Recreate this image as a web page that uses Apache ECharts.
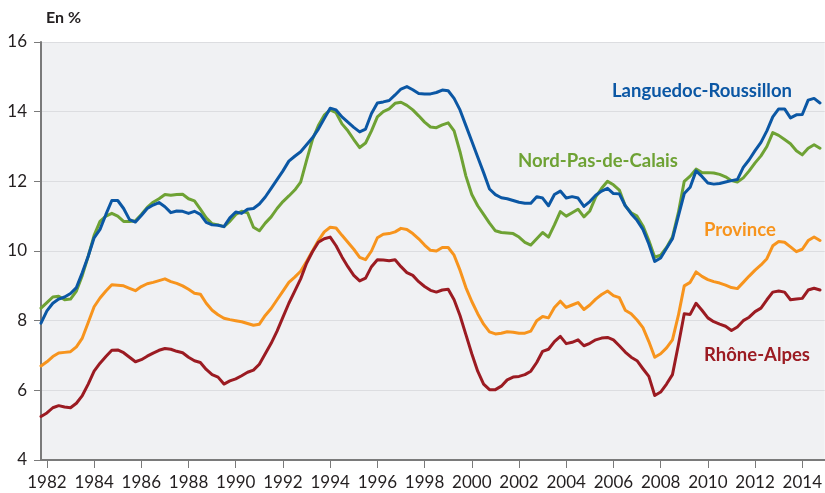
<!DOCTYPE html>
<html>
<head>
<meta charset="utf-8">
<script src="https://cdn.jsdelivr.net/npm/echarts@6/dist/echarts.min.js"></script>
<style>
  html, body { margin: 0; padding: 0; background: #fff; }
  #chart { width: 825px; height: 493px; }
</style>
</head>
<body>
<div id="chart"></div>
<script>
// quarterly series, first point = 4th quarter 1981
const firstQuarter = 1981.75;
const yearTicks = [1982, 1984, 1986, 1988, 1990, 1992, 1994, 1996, 1998, 2000,
  2002, 2004, 2006, 2008, 2010, 2012, 2014];

const languedoc = [
  7.93, 8.28, 8.5, 8.62, 8.68, 8.78, 8.95, 9.38, 9.85, 10.38,
  10.62, 11.05, 11.45, 11.45, 11.22, 10.9, 10.83, 11.02, 11.22, 11.32,
  11.39, 11.27, 11.1, 11.15, 11.14, 11.08, 11.14, 11.05, 10.82, 10.75,
  10.74, 10.7, 10.95, 11.12,
  11.08, 11.2, 11.22, 11.35, 11.55, 11.8, 12.05, 12.3, 12.58, 12.72,
  12.85, 13.05, 13.25, 13.5, 13.8, 14.1, 14.05, 13.85, 13.7, 13.55,
  13.42, 13.5, 13.95, 14.25, 14.28, 14.32, 14.48, 14.65, 14.72, 14.63,
  14.52, 14.51,
  14.51, 14.55, 14.62, 14.6, 14.38, 14.05, 13.6, 13.15, 12.7, 12.25,
  11.78, 11.62, 11.53, 11.5, 11.45, 11.4, 11.37, 11.37, 11.56, 11.52,
  11.3, 11.62, 11.72, 11.52, 11.56, 11.52, 11.28, 11.42, 11.6, 11.72, 11.8,
  11.65, 11.64, 11.3, 11.07, 10.88, 10.62, 10.2, 9.7, 9.8, 10.08,
  10.35, 11.0, 11.65, 11.83, 12.3, 12.14, 11.95, 11.92, 11.94, 11.98,
  12.02, 12.05, 12.4, 12.62, 12.88, 13.12, 13.45, 13.85, 14.08, 14.08,
  13.82, 13.91, 13.92, 14.33, 14.38, 14.25
];
const nordPasDeCalais = [
  8.36, 8.52, 8.68, 8.7, 8.6, 8.62, 8.85, 9.3, 9.85, 10.45,
  10.85, 11.0, 11.08, 11.0, 10.85, 10.85, 10.87, 11.05, 11.25, 11.4,
  11.5, 11.62, 11.6, 11.62, 11.63, 11.5, 11.44, 11.2, 10.95, 10.78,
  10.75, 10.7, 10.85, 11.05,
  11.14, 11.1, 10.68, 10.58, 10.8, 10.98, 11.22, 11.42, 11.58, 11.75,
  11.98, 12.6, 13.2, 13.6, 13.9, 14.05, 13.97, 13.65, 13.45, 13.2,
  12.97, 13.1, 13.45, 13.85, 14.0, 14.08,
  14.24, 14.27, 14.18, 14.05, 13.88, 13.7, 13.56, 13.54, 13.62, 13.68, 13.45,
  12.85, 12.15, 11.62, 11.3, 11.05, 10.8, 10.58, 10.53, 10.52, 10.5,
  10.4, 10.25, 10.17, 10.35, 10.53, 10.4, 10.75, 11.13, 11.0, 11.1,
  11.2, 10.98, 11.15, 11.55, 11.8, 12.0,
  11.9, 11.75, 11.3, 11.1, 11.0, 10.72, 10.3, 9.82, 9.88, 10.1,
  10.4, 11.1, 12.0, 12.15, 12.35, 12.25, 12.25, 12.24, 12.2, 12.13,
  12.02, 11.98, 12.1, 12.3, 12.53, 12.73, 13.0, 13.4, 13.32, 13.2,
  13.08, 12.88, 12.76, 12.95, 13.05, 12.95
];
const province = [
  6.7, 6.82, 6.97, 7.07, 7.09, 7.11, 7.25, 7.5, 7.95, 8.4,
  8.65, 8.85, 9.03, 9.02, 9.0, 8.93, 8.86, 8.98, 9.06, 9.1,
  9.15, 9.2, 9.12, 9.07, 9.0, 8.9, 8.79, 8.76, 8.5, 8.3,
  8.17, 8.07, 8.03, 8.0,
  7.97, 7.92, 7.87, 7.9, 8.15, 8.35, 8.6, 8.85, 9.1, 9.25,
  9.42, 9.7, 10.0, 10.3, 10.55, 10.68, 10.66, 10.45, 10.25, 10.05,
  9.82, 9.75, 10.0, 10.38, 10.48, 10.5, 10.55, 10.65, 10.62, 10.5,
  10.35, 10.17,
  10.02, 10.0, 10.1, 10.1, 9.88, 9.45, 8.95, 8.55, 8.2, 7.9,
  7.68, 7.62, 7.64, 7.68, 7.67, 7.64, 7.64, 7.7, 8.0, 8.12,
  8.08, 8.38, 8.56, 8.38, 8.45, 8.52, 8.32, 8.45, 8.62, 8.75, 8.85,
  8.72, 8.66, 8.3, 8.2, 8.02, 7.8, 7.4, 6.95, 7.05, 7.22,
  7.45, 8.15, 9.0, 9.1, 9.4, 9.27, 9.18, 9.12, 9.08, 9.02,
  8.95, 8.92, 9.1, 9.28, 9.45, 9.6, 9.78, 10.15, 10.27, 10.25,
  10.12, 9.98, 10.05, 10.3, 10.4, 10.3
];
const rhoneAlpes = [
  5.25, 5.35, 5.5, 5.56, 5.52, 5.5, 5.63, 5.85, 6.18, 6.55,
  6.78, 6.97, 7.15, 7.16, 7.08, 6.95, 6.82, 6.88, 6.98, 7.07,
  7.15, 7.2, 7.18, 7.12, 7.08, 6.95, 6.85, 6.8, 6.6, 6.45,
  6.38, 6.18, 6.27, 6.33,
  6.42, 6.52, 6.58, 6.75, 7.05, 7.35, 7.7, 8.1, 8.5, 8.85,
  9.2, 9.65, 9.98, 10.25, 10.35, 10.4, 10.15, 9.83, 9.55, 9.3,
  9.14, 9.22, 9.55, 9.75, 9.74, 9.72, 9.75, 9.55, 9.38, 9.3,
  9.12, 8.98,
  8.87, 8.82, 8.88, 8.9, 8.6, 8.15, 7.6, 7.05, 6.55, 6.18,
  6.02, 6.02, 6.12, 6.3, 6.38, 6.4, 6.45, 6.55, 6.8, 7.12,
  7.18, 7.4, 7.55, 7.34, 7.38, 7.45, 7.28, 7.35, 7.45, 7.5, 7.52,
  7.45, 7.28, 7.1, 6.95, 6.85, 6.62, 6.4, 5.85, 5.95, 6.18,
  6.45, 7.3, 8.2, 8.18, 8.5, 8.3, 8.08, 7.97, 7.9, 7.84,
  7.72, 7.82, 8.0, 8.1, 8.26, 8.36, 8.6, 8.82, 8.85, 8.82,
  8.6, 8.62, 8.64, 8.88, 8.93, 8.88
];

const quarters = languedoc.map((_, i) => firstQuarter + i * 0.25);
function toPoints(values) {
  return values.map((v, i) => [quarters[i], v]);
}

const font = 'Lato, "Open Sans", sans-serif';
const axisGray = '#7a7a7a';

function lineSeries(name, values, color) {
  return {
    name: name,
    type: 'line',
    data: toPoints(values),
    symbol: 'none',
    lineStyle: { color: color, width: 3, cap: 'round', join: 'round' },
    itemStyle: { color: color },
    silent: true,
    animation: false
  };
}

function seriesLabel(text, left, top, color) {
  return {
    type: 'text',
    left: left,
    top: top,
    style: { text: text, fill: color, font: 'bold 18.5px ' + font }
  };
}

const chart = echarts.init(document.getElementById('chart'), null, { renderer: 'canvas' });
chart.setOption({
  backgroundColor: '#ffffff',
  animation: false,
  grid: {
    left: 41, right: 0, top: 42, bottom: 33,
    show: true, backgroundColor: '#f0f1f3', borderWidth: 0
  },
  xAxis: {
    type: 'value',
    min: 1981.75,
    max: 2014.95,
    axisLine: { show: true, lineStyle: { color: axisGray, width: 2 } },
    axisTick: { show: true, length: 8, customValues: yearTicks, lineStyle: { color: axisGray, width: 1 } },
    axisLabel: {
      customValues: yearTicks, margin: 14, color: '#231f20',
      fontSize: 17, fontFamily: font,
      formatter: v => String(v)
    },
    splitLine: { show: false }
  },
  yAxis: {
    type: 'value',
    min: 4,
    max: 16,
    interval: 2,
    axisLine: { show: true, lineStyle: { color: axisGray, width: 2 } },
    axisTick: { show: true, length: 7, lineStyle: { color: axisGray, width: 1 } },
    axisLabel: { margin: 14, color: '#231f20', fontSize: 17, fontFamily: font },
    splitLine: { show: true, lineStyle: { color: '#dcdde0', width: 1 } }
  },
  series: [
    lineSeries('Province', province, '#f7941d'),
    lineSeries('Rhône-Alpes', rhoneAlpes, '#9b1b22'),
    lineSeries('Nord-Pas-de-Calais', nordPasDeCalais, '#6ea234'),
    lineSeries('Languedoc-Roussillon', languedoc, '#0b57a4')
  ],
  graphic: [
    { type: 'text', left: 46, top: 10, style: { text: 'En %', fill: '#231f20', font: 'bold 16px ' + font } },
    seriesLabel('Languedoc-Roussillon', 612, 82, '#0b57a4'),
    seriesLabel('Nord-Pas-de-Calais', 518, 152, '#6ea234'),
    seriesLabel('Province', 704, 221, '#f7941d'),
    seriesLabel('Rhône-Alpes', 704, 346, '#9b1b22')
  ]
});
</script>
</body>
</html>
